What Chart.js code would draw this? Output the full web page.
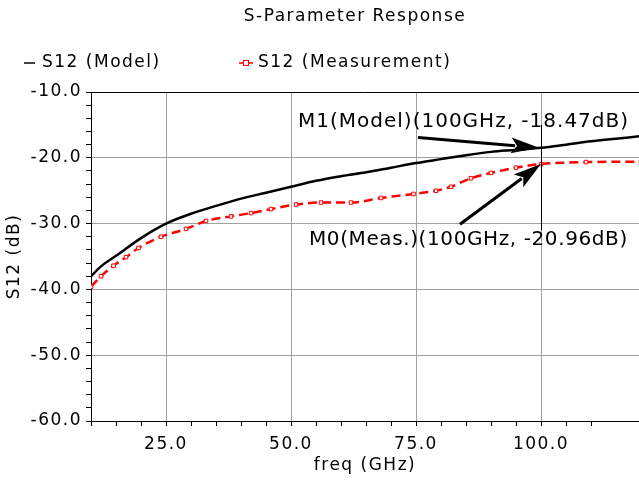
<!DOCTYPE html>
<html>
<head>
<meta charset="utf-8">
<script src="https://cdn.jsdelivr.net/npm/chart.js@4"></script>
<style>
  html, body { margin: 0; padding: 0; background: #fff; overflow: hidden; }
  #wrap { width: 639px; height: 480px; }
</style>
</head>
<body>
<div id="wrap"><canvas id="chart" width="639" height="480"></canvas></div>
<script>
// ----- data -----
const modelFreq = [10, 12, 15, 20, 25, 30, 35, 40, 45, 50, 55, 60, 65, 70, 75, 80, 85, 90, 95, 100, 105, 110, 115, 120];
const modelS12 = [-38.0, -36.5, -34.9, -32.2, -30.0, -28.5, -27.3, -26.2, -25.3, -24.4, -23.5, -22.8, -22.2, -21.5, -20.8, -20.2, -19.6, -19.1, -18.8, -18.47, -18.0, -17.5, -17.1, -16.7];

const measFreq = [10, 12, 14.5, 17, 19.5, 24, 29, 33, 38, 42, 46, 51, 56, 62, 68, 74.5, 79, 82, 86, 90, 95, 100, 109, 120];
const measS12 = [-39.6, -38.0, -36.4, -35.1, -33.7, -32.0, -30.8, -29.6, -28.9, -28.4, -27.8, -27.1, -26.8, -26.8, -26.1, -25.5, -25.0, -24.4, -23.1, -22.3, -21.5, -20.96, -20.65, -20.6];

// marker readouts
const markerLabels = ['M1(Model)(100GHz, -18.47dB)', 'M0(Meas.)(100GHz, -20.96dB)'];
const markerFreq = [100, 100];
const markerDB = [-18.47, -20.96];

const FONT = '"DejaVu Sans", sans-serif';

function toPoints(xs, ys) {
  return xs.map((x, i) => ({ x: x, y: ys[i] }));
}

function drawArrow(ctx, x0, y0, x1, y1) {
  const ang = Math.atan2(y1 - y0, x1 - x0);
  const headLen = 28, headHalf = 8;
  const bx = x1 - headLen * Math.cos(ang);
  const by = y1 - headLen * Math.sin(ang);
  ctx.beginPath();
  ctx.moveTo(x0, y0);
  ctx.lineTo(bx + 4 * Math.cos(ang), by + 4 * Math.sin(ang));
  ctx.lineWidth = 3;
  ctx.strokeStyle = '#000';
  ctx.stroke();
  ctx.beginPath();
  ctx.moveTo(x1, y1);
  ctx.lineTo(bx - headHalf * Math.sin(ang), by + headHalf * Math.cos(ang));
  ctx.lineTo(bx + 6 * Math.cos(ang), by + 6 * Math.sin(ang));
  ctx.lineTo(bx + headHalf * Math.sin(ang), by - headHalf * Math.cos(ang));
  ctx.closePath();
  ctx.fillStyle = '#000';
  ctx.fill();
}

// titles, legend and marker annotations
const extras = {
  id: 'extras',
  beforeDraw(chart) {
    chart.ctx.letterSpacing = '1.5px';
  },
  afterDraw(chart) {
    const ctx = chart.ctx;
    const xs = chart.scales.x, ys = chart.scales.y;
    ctx.save();

    // title
    ctx.letterSpacing = '1.5px';
    ctx.font = '17px ' + FONT;
    ctx.fillStyle = '#000';
    ctx.textAlign = 'center';
    ctx.textBaseline = 'middle';
    ctx.fillText('S-Parameter Response', 355, 17);

    // legend
    ctx.textAlign = 'left';
    ctx.strokeStyle = '#000';
    ctx.lineWidth = 1.5;
    ctx.beginPath(); ctx.moveTo(24, 63); ctx.lineTo(35, 63); ctx.stroke();
    ctx.fillText('S12 (Model)', 42, 63);
    ctx.strokeStyle = '#ff0000';
    ctx.beginPath(); ctx.moveTo(239, 63); ctx.lineTo(253, 63); ctx.stroke();
    ctx.fillStyle = '#fff';
    ctx.lineWidth = 1;
    ctx.fillRect(243.5, 60.5, 5, 5);
    ctx.strokeRect(243.5, 60.5, 5, 5);
    ctx.fillStyle = '#000';
    ctx.fillText('S12 (Measurement)', 258, 63);

    // marker readouts
    const px = Math.round(xs.getPixelForValue(markerFreq[0])) + 0.5;
    ctx.strokeStyle = '#000';
    ctx.lineWidth = 1;
    ctx.beginPath();
    ctx.moveTo(px, ys.getPixelForValue(-15));
    ctx.lineTo(px, ys.getPixelForValue(-31));
    ctx.stroke();

    ctx.font = '20px ' + FONT;
    ctx.letterSpacing = '1px';
    ctx.fillText(markerLabels[0], xs.getPixelForValue(51.4), ys.getPixelForValue(-14.6));
    ctx.letterSpacing = '0.6px';
    ctx.fillText(markerLabels[1], xs.getPixelForValue(53.6), ys.getPixelForValue(-32.5));

    const m1 = [xs.getPixelForValue(markerFreq[0]), ys.getPixelForValue(markerDB[0])];
    const m0 = [xs.getPixelForValue(markerFreq[1]), ys.getPixelForValue(markerDB[1])];
    drawArrow(ctx, xs.getPixelForValue(75.4), ys.getPixelForValue(-16.93), m1[0] - 2, m1[1]);
    drawArrow(ctx, xs.getPixelForValue(83.8), ys.getPixelForValue(-30.1), m0[0], m0[1]);

    ctx.restore();
  }
};

const ctx = document.getElementById('chart').getContext('2d');
new Chart(ctx, {
  type: 'line',
  data: {
    datasets: [{
      label: 'S12 (Model)',
      data: toPoints(modelFreq, modelS12),
      borderColor: '#000',
      borderWidth: 2.5,
      pointRadius: 0,
      cubicInterpolationMode: 'monotone'
    }, {
      label: 'S12 (Measurement)',
      data: toPoints(measFreq, measS12),
      borderColor: '#ff0000',
      borderWidth: 2.5,
      borderDash: [9, 5],
      pointStyle: 'rect',
      pointRadius: 2.5,
      pointBorderWidth: 1,
      pointBackgroundColor: '#fff',
      pointBorderColor: '#ff0000',
      cubicInterpolationMode: 'monotone'
    }]
  },
  options: {
    responsive: false,
    animation: false,
    layout: { autoPadding: false, padding: { top: 92, left: 0, right: 0, bottom: 0 } },
    plugins: {
      legend: { display: false },
      title: { display: false },
      tooltip: { enabled: false }
    },
    scales: {
      x: {
        type: 'linear',
        min: 10,
        max: 119.6,
        afterFit(scale) {
          scale.height = 59;
          scale.paddingLeft = 0;
          scale.paddingRight = 0;
        },
        border: { color: '#000', width: 1 },
        grid: {
          color: c => (c.tick && c.tick.value % 25 === 0) ? '#a0a0a0' : 'rgba(0,0,0,0)',
          tickColor: c => (c.tick && c.tick.value % 5 === 0) ? '#000' : 'rgba(0,0,0,0)',
          tickLength: 5,
          lineWidth: 1
        },
        ticks: {
          stepSize: 5,
          autoSkip: false,
          maxRotation: 0,
          padding: 8,
          color: '#000',
          font: { family: FONT, size: 17 },
          callback: v => (v % 25 === 0 && v >= 25 && v <= 100) ? v.toFixed(1) : ''
        },
        title: {
          display: true,
          text: 'freq (GHz)',
          color: '#000',
          font: { family: FONT, size: 17 },
          padding: 4
        }
      },
      y: {
        min: -60,
        max: -10,
        afterFit(scale) { scale.width = 91; },
        border: { color: '#000', width: 1 },
        grid: {
          color: c => {
            if (!c.tick) return 'rgba(0,0,0,0)';
            const v = Math.round(c.tick.value);
            if (v === -10) return '#000';
            return (v % 10 === 0) ? '#a0a0a0' : 'rgba(0,0,0,0)';
          },
          tickColor: '#000',
          tickLength: 5,
          lineWidth: 1
        },
        ticks: {
          stepSize: 2,
          autoSkip: false,
          padding: 4,
          color: '#000',
          font: { family: FONT, size: 17 },
          callback: v => (Math.round(v) % 10 === 0) ? Math.round(v).toFixed(1) : ''
        },
        title: {
          display: true,
          text: 'S12 (dB)',
          color: '#000',
          font: { family: FONT, size: 17 },
          padding: 4
        }
      }
    }
  },
  plugins: [extras]
});
</script>
</body>
</html>
